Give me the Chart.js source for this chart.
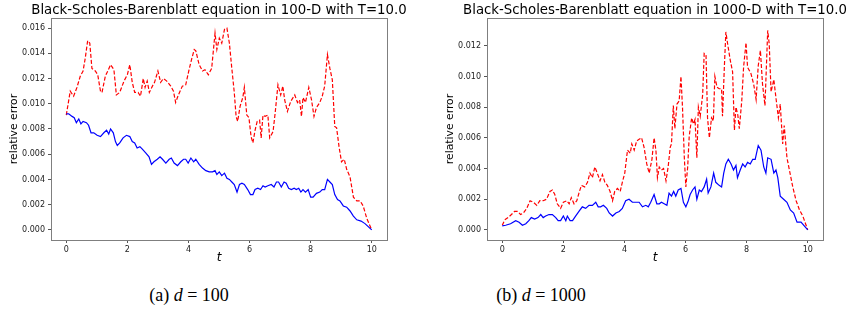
<!DOCTYPE html>
<html>
<head>
<meta charset="utf-8">
<script src="https://cdn.jsdelivr.net/npm/chart.js@4/dist/chart.umd.min.js"></script>
<style>
  body { margin: 0; background: #fff; width: 849px; height: 320px; overflow: hidden; position: relative; }
  canvas { position: absolute; top: 0; }
  #c100 { left: 0; }
  #c1000 { left: 420px; }
  .caption { position: absolute; top: 285px; width: 200px; text-align: center; font-family: "Liberation Serif", serif; font-size: 18px; color: #000; }
</style>
</head>
<body>
<canvas id="c100" width="420" height="270"></canvas>
<canvas id="c1000" width="429" height="270"></canvas>
<div class="caption" style="left:89px">(a) <i>d</i> = 100</div>
<div class="caption" style="left:441px">(b) <i>d</i> = 1000</div>
<script>
// x ticks shared by both panels
const xTicks = [0, 2, 4, 6, 8, 10];

// d = 100 : red dashed curve
const tRed100 = [0, 0.13, 0.24, 0.35, 0.46, 0.55, 0.62, 0.70, 0.77, 0.84,
  0.95, 1.03, 1.12, 1.17, 1.28, 1.36, 1.45, 1.56, 1.64, 1.75,
  1.89, 2.0, 2.08, 2.16, 2.24, 2.35, 2.43, 2.52, 2.58, 2.65,
  2.72, 2.82, 2.89, 3.0, 3.09, 3.18, 3.29, 3.42, 3.51, 3.58,
  3.67, 3.80, 3.91, 4.02, 4.10, 4.19, 4.24, 4.35, 4.46, 4.54,
  4.65, 4.76, 4.87, 4.93, 5.01, 5.09, 5.18, 5.26, 5.34, 5.42,
  5.50, 5.56, 5.61, 5.69, 5.78, 5.83, 5.91, 5.98, 6.05, 6.11,
  6.18, 6.25, 6.33, 6.38, 6.44, 6.51, 6.60, 6.66, 6.77, 6.84,
  6.93, 7.02, 7.09, 7.15, 7.24, 7.35, 7.48, 7.57, 7.64, 7.70,
  7.75, 7.83, 7.94, 8.03, 8.11, 8.19, 8.30, 8.38, 8.46, 8.55,
  8.63, 8.71, 8.79, 8.85, 8.93, 9.01, 9.10, 9.18, 9.29, 9.40,
  9.51, 9.62, 9.72, 9.84, 10];
const red100 = [0.0091, 0.0110, 0.0106, 0.0113, 0.0122, 0.0126, 0.0136, 0.0150, 0.0148, 0.0128,
  0.0126, 0.0123, 0.0110, 0.0109, 0.0122, 0.0126, 0.0131, 0.0127, 0.0107, 0.0109,
  0.0118, 0.0123, 0.0131, 0.0117, 0.0109, 0.0109, 0.0106, 0.0120, 0.0113, 0.0118,
  0.0109, 0.0114, 0.0117, 0.0126, 0.0117, 0.0120, 0.0118, 0.0114, 0.0110, 0.0101,
  0.0107, 0.0114, 0.0115, 0.0127, 0.0135, 0.0143, 0.0142, 0.0131, 0.0126, 0.0127,
  0.0123, 0.0128, 0.0156, 0.0143, 0.0152, 0.0148, 0.0159, 0.0160, 0.0148, 0.0128,
  0.0109, 0.0090, 0.0086, 0.0098, 0.0105, 0.0113, 0.0091, 0.0089, 0.0074, 0.0069,
  0.0079, 0.0086, 0.0087, 0.0073, 0.0091, 0.0090, 0.0091, 0.0073, 0.0078, 0.0093,
  0.0115, 0.0107, 0.0114, 0.0103, 0.0094, 0.0102, 0.0107, 0.0101, 0.0103, 0.0090,
  0.0105, 0.0101, 0.0113, 0.0103, 0.0090, 0.0097, 0.0101, 0.0106, 0.0114, 0.0139,
  0.0128, 0.0119, 0.0082, 0.0081, 0.0066, 0.0054, 0.0056, 0.0048, 0.0042, 0.0026,
  0.0023, 0.0023, 0.0019, 0.0009, 0.0000];

// d = 100 : blue solid curve
const tBlue100 = [0, 0.08, 0.19, 0.26, 0.33, 0.41, 0.48, 0.55, 0.66, 0.73,
  0.81, 0.90, 1.01, 1.12, 1.23, 1.32, 1.39, 1.45, 1.54, 1.61,
  1.67, 1.75, 1.86, 1.97, 2.08, 2.16, 2.24, 2.32, 2.41, 2.49,
  2.60, 2.71, 2.79, 2.87, 2.98, 3.07, 3.15, 3.26, 3.37, 3.44,
  3.53, 3.64, 3.75, 3.84, 3.91, 3.99, 4.08, 4.17, 4.24, 4.35,
  4.46, 4.57, 4.68, 4.79, 4.87, 4.93, 5.01, 5.09, 5.18, 5.26,
  5.34, 5.42, 5.50, 5.59, 5.67, 5.75, 5.83, 5.94, 6.03, 6.11,
  6.18, 6.27, 6.36, 6.44, 6.51, 6.60, 6.71, 6.80, 6.88, 6.95,
  7.04, 7.13, 7.20, 7.28, 7.37, 7.46, 7.53, 7.61, 7.68, 7.75,
  7.83, 7.92, 8.00, 8.08, 8.19, 8.30, 8.38, 8.46, 8.55, 8.63,
  8.71, 8.79, 8.88, 8.96, 9.07, 9.18, 9.29, 9.40, 9.51, 9.65,
  9.78, 10];
const blue100 = [0.0092, 0.0092, 0.0090, 0.0089, 0.0085, 0.0088, 0.0084, 0.0086, 0.0085, 0.0083,
  0.0077, 0.0077, 0.0075, 0.0074, 0.0077, 0.0079, 0.0076, 0.0080, 0.0077, 0.0070,
  0.0067, 0.0069, 0.0073, 0.0075, 0.0074, 0.0070, 0.0069, 0.0065, 0.0066, 0.0064,
  0.0061, 0.0058, 0.0052, 0.0054, 0.0056, 0.0058, 0.0056, 0.0053, 0.0056, 0.0057,
  0.0053, 0.0051, 0.0054, 0.0056, 0.0056, 0.0053, 0.0057, 0.0054, 0.0056, 0.0052,
  0.0049, 0.0047, 0.0046, 0.0046, 0.0047, 0.0044, 0.0046, 0.0043, 0.0045, 0.0041,
  0.0040, 0.0038, 0.0036, 0.0030, 0.0036, 0.0037, 0.0036, 0.0032, 0.0028, 0.0028,
  0.0032, 0.0033, 0.0032, 0.0035, 0.0034, 0.0035, 0.0036, 0.0034, 0.0038, 0.0038,
  0.0034, 0.0038, 0.0037, 0.0033, 0.0032, 0.0033, 0.0032, 0.0033, 0.0030, 0.0032,
  0.0030, 0.0032, 0.0026, 0.0026, 0.0029, 0.0030, 0.0032, 0.0032, 0.0040, 0.0038,
  0.0036, 0.0028, 0.0024, 0.0023, 0.0019, 0.0018, 0.0015, 0.0011, 0.0008, 0.0007,
  0.0005, 0.0000];

// d = 1000 : red dashed curve
const tRed1000 = [0, 0.08, 0.19, 0.30, 0.40, 0.51, 0.60, 0.69, 0.80, 0.91,
  1.02, 1.13, 1.23, 1.34, 1.45, 1.56, 1.64, 1.72, 1.80, 1.91,
  2.0, 2.11, 2.19, 2.26, 2.35, 2.44, 2.51, 2.59, 2.70, 2.79,
  2.87, 2.95, 3.03, 3.11, 3.20, 3.28, 3.36, 3.44, 3.53, 3.61,
  3.68, 3.77, 3.86, 3.93, 4.01, 4.10, 4.19, 4.24, 4.32, 4.40,
  4.48, 4.56, 4.64, 4.73, 4.81, 4.90, 4.97, 5.03, 5.08, 5.14,
  5.21, 5.28, 5.36, 5.43, 5.50, 5.54, 5.60, 5.65, 5.72, 5.79,
  5.85, 5.90, 5.96, 6.01, 6.07, 6.12, 6.20, 6.26, 6.31, 6.37,
  6.42, 6.48, 6.56, 6.61, 6.67, 6.72, 6.78, 6.85, 6.91, 6.96,
  7.03, 7.10, 7.18, 7.21, 7.27, 7.32, 7.38, 7.46, 7.54, 7.60,
  7.65, 7.71, 7.76, 7.84, 7.90, 7.98, 8.03, 8.14, 8.23, 8.31,
  8.38, 8.45, 8.52, 8.60, 8.69, 8.74, 8.80, 8.89, 8.96, 9.04,
  9.10, 9.18, 9.23, 9.32, 9.40, 9.51, 9.62, 9.73, 9.84, 10];
const red1000 = [0.0003, 0.00065, 0.0008, 0.0010, 0.0012, 0.0012, 0.0010, 0.0011, 0.0014, 0.0019,
  0.0018, 0.0016, 0.0019, 0.0019, 0.0020, 0.0025, 0.0026, 0.0023, 0.0017, 0.0014,
  0.0018, 0.0019, 0.0017, 0.0021, 0.0017, 0.0019, 0.0024, 0.0029, 0.0028, 0.0031,
  0.0037, 0.0034, 0.0041, 0.0037, 0.0032, 0.0036, 0.0031, 0.0029, 0.0025, 0.0019,
  0.0025, 0.0027, 0.0025, 0.0031, 0.0037, 0.0052, 0.0050, 0.0056, 0.0052, 0.0058,
  0.0059, 0.0060, 0.0054, 0.0043, 0.0037, 0.0046, 0.0060, 0.0052, 0.0034, 0.0041,
  0.0039, 0.0040, 0.0032, 0.0041, 0.0054, 0.0056, 0.0081, 0.0066, 0.0082, 0.0084,
  0.0100, 0.0080, 0.0047, 0.0028, 0.0041, 0.0061, 0.0073, 0.0069, 0.0072, 0.0047,
  0.0080, 0.0074, 0.0088, 0.0115, 0.0114, 0.0073, 0.0060, 0.0073, 0.0071, 0.0100,
  0.0093, 0.0092, 0.0092, 0.0074, 0.0106, 0.0129, 0.0121, 0.0111, 0.0103, 0.0065,
  0.0080, 0.0075, 0.0066, 0.0084, 0.0106, 0.0122, 0.0106, 0.0102, 0.0095, 0.0085,
  0.0107, 0.0117, 0.0095, 0.0081, 0.0130, 0.0121, 0.0090, 0.0098, 0.0086, 0.0073,
  0.0082, 0.0056, 0.0068, 0.0047, 0.0039, 0.0028, 0.0019, 0.0013, 0.0009, 0.0000];

// d = 1000 : blue solid curve
const tBlue1000 = [0, 0.11, 0.27, 0.44, 0.55, 0.66, 0.77, 0.87, 0.95, 1.06,
  1.17, 1.26, 1.34, 1.42, 1.53, 1.64, 1.75, 1.83, 1.91, 2.0,
  2.08, 2.13, 2.22, 2.30, 2.40, 2.51, 2.62, 2.73, 2.84, 2.95,
  3.06, 3.14, 3.22, 3.31, 3.42, 3.50, 3.61, 3.72, 3.83, 3.93,
  4.04, 4.15, 4.26, 4.37, 4.48, 4.59, 4.70, 4.78, 4.86, 4.97,
  5.06, 5.14, 5.21, 5.30, 5.39, 5.46, 5.54, 5.61, 5.68, 5.76,
  5.85, 5.93, 6.01, 6.09, 6.15, 6.23, 6.31, 6.37, 6.45, 6.52,
  6.61, 6.69, 6.74, 6.83, 6.92, 6.99, 7.10, 7.18, 7.25, 7.32,
  7.40, 7.49, 7.57, 7.65, 7.70, 7.79, 7.87, 7.95, 8.03, 8.12,
  8.20, 8.28, 8.38, 8.47, 8.56, 8.63, 8.69, 8.80, 8.89, 8.96,
  9.02, 9.10, 9.21, 9.32, 9.43, 9.54, 9.65, 9.78, 10];
const blue1000 = [0.00026, 0.0003, 0.0004, 0.0006, 0.0005, 0.0003, 0.0004, 0.0006, 0.0008, 0.0007,
  0.0008, 0.0010, 0.0008, 0.0009, 0.0010, 0.0010, 0.0008, 0.0006, 0.0006, 0.0009,
  0.0006, 0.0009, 0.0006, 0.0006, 0.0009, 0.0012, 0.0015, 0.0014, 0.0016, 0.0016,
  0.0018, 0.0015, 0.0015, 0.0016, 0.0014, 0.0011, 0.0009, 0.0011, 0.0012, 0.0014,
  0.0019, 0.0020, 0.0018, 0.0018, 0.0018, 0.0015, 0.0016, 0.0015, 0.0018, 0.0023,
  0.0017, 0.0017, 0.0018, 0.0017, 0.0016, 0.0024, 0.0022, 0.0025, 0.0022, 0.0026,
  0.0027, 0.0018, 0.0015, 0.0019, 0.0023, 0.0026, 0.0028, 0.0020, 0.0026, 0.0025,
  0.0028, 0.0033, 0.0024, 0.0028, 0.0037, 0.0031, 0.0029, 0.0028, 0.0037, 0.0043,
  0.0046, 0.0043, 0.0039, 0.0042, 0.0034, 0.0039, 0.0043, 0.0041, 0.0044, 0.0043,
  0.0046, 0.0046, 0.0055, 0.0052, 0.0041, 0.0037, 0.0047, 0.0046, 0.0037, 0.0039,
  0.0034, 0.0022, 0.0020, 0.0018, 0.0013, 0.0011, 0.0005, 0.0005, 0.0000];

const yTicks100 = [0, 0.002, 0.004, 0.006, 0.008, 0.010, 0.012, 0.014, 0.016];
const yTicks1000 = [0, 0.002, 0.004, 0.006, 0.008, 0.010, 0.012];

// matplotlib-style box around the plot area
const frame = {
  id: 'frame',
  afterDraw(chart) {
    const { ctx, chartArea: a } = chart;
    ctx.save();
    ctx.strokeStyle = '#7f7f7f';
    ctx.lineWidth = 1;
    ctx.strokeRect(Math.round(a.left) + 0.5, Math.round(a.top) + 0.5,
      Math.round(a.right - a.left), Math.round(a.bottom - a.top));
    ctx.restore();
  }
};

// title centred over the plot box, full size (allowed to run off the canvas like the original)
const panelTitle = {
  id: 'panelTitle',
  afterDraw(chart, args, opts) {
    const { ctx, chartArea: a } = chart;
    ctx.save();
    ctx.font = '13.3px "DejaVu Sans"';
    ctx.fillStyle = '#000';
    ctx.textAlign = 'center';
    ctx.textBaseline = 'alphabetic';
    ctx.fillText(opts.text, (a.left + a.right) / 2, 13.5);
    ctx.restore();
  }
};

function pts(ts, vs) {
  return ts.map((t, i) => ({ x: t, y: vs[i] }));
}

function makeChart(id, title, tR, vR, tB, vB, yMin, yMax, yTicks, axisW, padRight, labelPad) {
  return new Chart(document.getElementById(id), {
    type: 'line',
    data: {
      datasets: [
        { data: pts(tB, vB), borderColor: '#0000ff', borderWidth: 1.2, pointRadius: 0, tension: 0, fill: false },
        { data: pts(tR, vR), borderColor: '#ff0000', borderWidth: 1.2, borderDash: [4, 2], pointRadius: 0, tension: 0, fill: false }
      ]
    },
    options: {
      responsive: false,
      animation: false,
      devicePixelRatio: 1,
      layout: { padding: { left: 0, right: padRight, top: 18, bottom: 0 } },
      plugins: {
        legend: { display: false },
        tooltip: { enabled: false },
        title: { display: false },
        panelTitle: { text: title }
      },
      scales: {
        x: {
          type: 'linear', min: -0.5, max: 10.5,
          afterBuildTicks: s => { s.ticks = xTicks.map(v => ({ value: v })); },
          afterFit: s => { s.height = 30; },
          grid: { drawOnChartArea: false, drawTicks: true, tickLength: 3, color: '#555' },
          border: { display: true, color: '#7f7f7f' },
          ticks: { color: '#222', font: { family: 'DejaVu Sans', size: 8 }, padding: 2, maxRotation: 0 },
          title: { display: true, text: 't', color: '#000', font: { family: 'DejaVu Sans', size: 12, style: 'italic' }, padding: { top: 4.5, bottom: 4.5 } }
        },
        y: {
          min: yMin, max: yMax,
          afterBuildTicks: s => { s.ticks = yTicks.map(v => ({ value: v })); },
          afterFit: s => { s.width = axisW; },
          grid: { drawOnChartArea: false, drawTicks: true, tickLength: 3, color: '#555' },
          border: { display: true, color: '#7f7f7f' },
          ticks: { color: '#222', font: { family: 'DejaVu Sans', size: 8 }, padding: 3, callback: v => v.toFixed(3) },
          title: { display: true, text: 'relative error', color: '#000', font: { family: 'DejaVu Sans', size: 10.8 }, padding: { top: labelPad, bottom: labelPad } }
        }
      }
    },
    plugins: [frame, panelTitle]
  });
}

makeChart('c100', 'Black-Scholes-Barenblatt equation in 100-D with T=10.0',
  tRed100, red100, tBlue100, blue100, -0.0008, 0.0168, yTicks100, 51, 33, 7.5);
makeChart('c1000', 'Black-Scholes-Barenblatt equation in 1000-D with T=10.0',
  tRed1000, red1000, tBlue1000, blue1000, -0.00066, 0.01381, yTicks1000, 67, 26, 23.5);
</script>
</body>
</html>
